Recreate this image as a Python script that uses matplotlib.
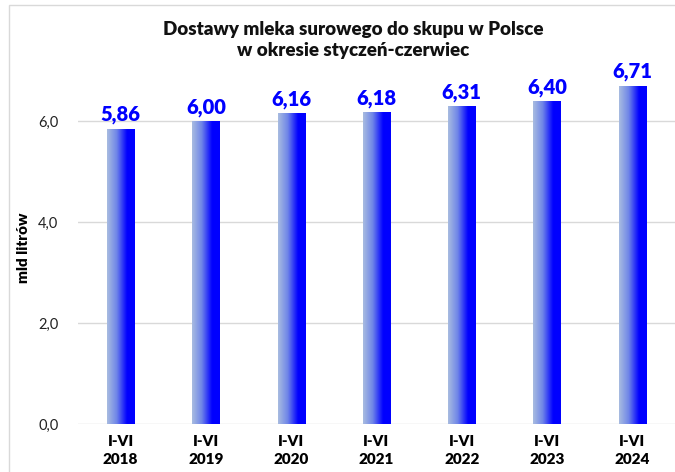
import numpy as np
import matplotlib
matplotlib.use("Agg")
import matplotlib.pyplot as plt
from matplotlib.colors import LinearSegmentedColormap
from matplotlib.patches import Rectangle

categories = ["I-VI\n2018", "I-VI\n2019", "I-VI\n2020", "I-VI\n2021",
              "I-VI\n2022", "I-VI\n2023", "I-VI\n2024"]
values = [5.86, 6.00, 6.16, 6.18, 6.31, 6.40, 6.71]
yticks = [0.0, 2.0, 4.0, 6.0]
ytick_labels = ["0,0", "2,0", "4,0", "6,0"]
title = "Dostawy mleka surowego do skupu w Polsce\nw okresie styczeń-czerwiec"
ylabel = "mld litrów"

plt.rcParams['font.family'] = ['Lato', 'DejaVu Sans']

fig = plt.figure(figsize=(6.75, 4.72), dpi=100)
fig.patches.append(Rectangle((9 / 675, -0.01), 1.0, 1 - 5 / 472 + 0.01,
                             transform=fig.transFigure, fill=False,
                             edgecolor="#d9d9d9", linewidth=1.0, zorder=0))
ax = fig.add_axes([78 / 675, 1 - 424.3 / 472, 1 - 78 / 675, (424.3 - 71) / 472])

x = np.arange(len(values))
bars = ax.bar(x, values, width=0.32, color="none", edgecolor="none", zorder=3)

cmap = LinearSegmentedColormap.from_list(
    "g", [(0.0, "#a9bde0"), (0.35, "#6f85e8"), (0.72, "#0000ff"), (1.0, "#0000ff")])
grad = np.linspace(0, 1, 256).reshape(1, -1)
for b in bars:
    x0, y0, w, h = b.get_x(), b.get_y(), b.get_width(), b.get_height()
    im = ax.imshow(grad, cmap=cmap, aspect="auto", extent=(x0, x0 + w, y0, y0 + h),
                   zorder=3, interpolation="bicubic")
    im.set_clip_path(b)

for xi, v in zip(x, values):
    ax.annotate(f"{v:.2f}".replace(".", ","), (xi, v), xytext=(0, 3),
                textcoords="offset points", ha="center", va="bottom",
                color="#0000ff", fontsize=14.5, fontweight="heavy")

ax.set_xlim(-0.5, len(values) - 0.5)
ax.set_ylim(0, 7.0)
ax.set_yticks(yticks)
ax.set_yticklabels(ytick_labels, fontsize=10.5, color="#222222")
ax.set_xticks(x)
ax.set_xticklabels(categories, fontsize=11, fontweight="heavy", linespacing=1.45)
ax.tick_params(axis="both", length=0)
ax.tick_params(axis="y", pad=14)
ax.tick_params(axis="x", pad=8)
ax.grid(axis="y", color="#d9d9d9", linewidth=1.0, zorder=0)
ax.set_axisbelow(True)
for s in ax.spines.values():
    s.set_visible(False)
ax.set_ylabel(ylabel, fontsize=11, fontweight="heavy", labelpad=6)

fig.text(353 / 675, 1 - 40 / 472, title, ha="center", va="center",
         fontsize=13.5, fontweight="heavy", linespacing=1.35, color="#111111")

fig.savefig("out.png", dpi=100)
